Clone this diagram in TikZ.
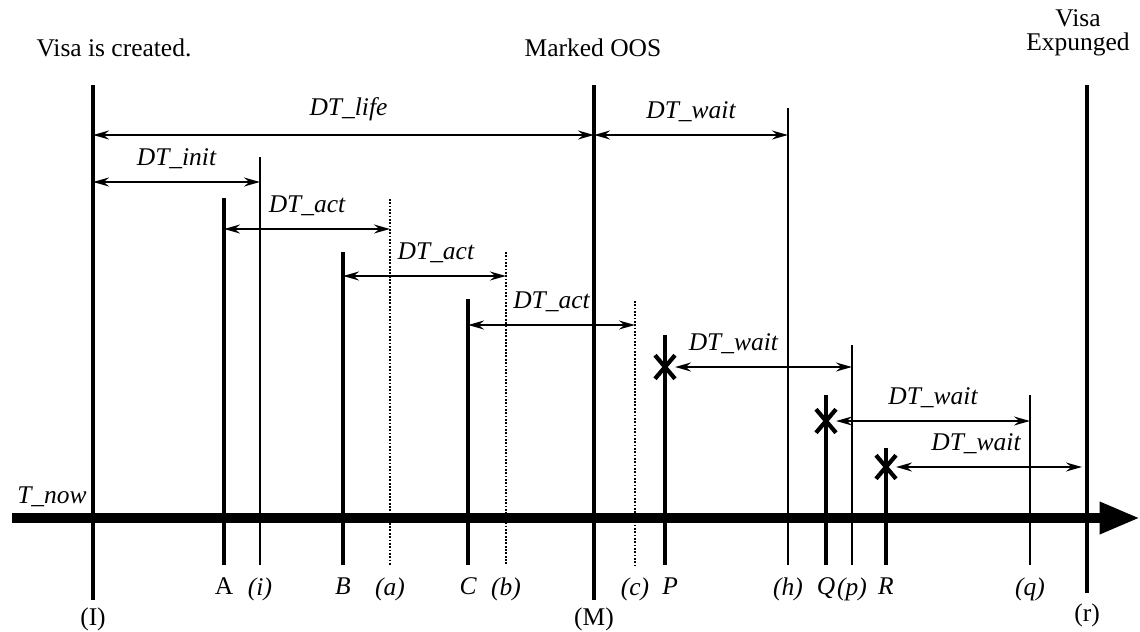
\documentclass[tikz,border=0pt]{standalone}
\usepackage{fontspec}
\setmainfont{Liberation Serif}
\usepackage{tikz}
\usepackage{xcolor}
\usetikzlibrary{arrows.meta, positioning, shapes.misc}
\definecolor{InkBlack}{HTML}{000000}
\definecolor{PaperWhite}{HTML}{ffffff}
\newcommand{\figfont}{\fontsize{14.5}{14}\selectfont}
\tikzset{
    % Line styles
    eventline/.style={
        draw=InkBlack,
        line width=1.8pt
    },
    limitline/.style={
        draw=InkBlack,
        line width=1.6pt,
        dash pattern=on 1pt off 0.9pt
    },
    waitline/.style={
        draw=InkBlack,
        line width=1.1pt
    },
    crossmark/.style={
        cross out,
        draw=InkBlack,
        line width=2.4pt,
        inner sep=0pt,
        minimum width=9pt,
        minimum height=11pt
    },
    % Arrow styles
    spanarrow/.style={
        <->,
        >={Stealth[length=9pt, width=5pt]},
        line width=1.5pt,
        InkBlack
    },
    timeline/.style={
        draw=InkBlack,
        line width=5.5pt,
        -{Triangle[length=23pt, width=17pt]}
    },
    % Text styles
    spanlabel/.style={
        inner sep=1pt,
        font=\figfont\itshape
    },
    ticklabel/.style={
        inner sep=1pt,
        font=\figfont\itshape
    },
    eventlabel/.style={
        inner sep=1pt,
        align=center,
        font=\figfont
    }
}

\begin{document}
\begin{tikzpicture}[x=0.02cm, y=-0.02cm]
    \useasboundingbox[fill=PaperWhite] (0,0) rectangle (1140,632);

    \coordinate (now-s) at (12,518);
    \coordinate (now-e) at (1140,518);
    \draw[timeline] (now-s) -- (now-e);
    \node[spanlabel] (now-lab) at (52,497) {T\_now};

    \node[eventlabel] (created) at (114,48) {Visa is created.};
    \node[eventlabel] (marked) at (593,48) {Marked OOS};
    \node[eventlabel] (expunged) at (1078,33) {Visa\\Expunged};

    \coordinate (I-top) at (93,85);   \coordinate (I-bot) at (93,600);
    \coordinate (A-top) at (224,198); \coordinate (A-bot) at (224,565);
    \coordinate (i-top) at (260,157); \coordinate (i-bot) at (260,565);
    \coordinate (B-top) at (343,252); \coordinate (B-bot) at (343,565);
    \coordinate (a-top) at (390,199); \coordinate (a-bot) at (390,565);
    \coordinate (C-top) at (468,299); \coordinate (C-bot) at (468,565);
    \coordinate (b-top) at (506,252); \coordinate (b-bot) at (506,565);
    \coordinate (M-top) at (594,85);  \coordinate (M-bot) at (594,600);
    \coordinate (c-top) at (635,301); \coordinate (c-bot) at (635,565);
    \coordinate (P-top) at (665,335); \coordinate (P-bot) at (665,565);
    \coordinate (h-top) at (788,108); \coordinate (h-bot) at (788,565);
    \coordinate (Q-top) at (826,395); \coordinate (Q-bot) at (826,565);
    \coordinate (p-top) at (852,345); \coordinate (p-bot) at (852,565);
    \coordinate (R-top) at (886,448); \coordinate (R-bot) at (886,565);
    \coordinate (q-top) at (1030,395); \coordinate (q-bot) at (1030,565);
    \coordinate (r-top) at (1087,85); \coordinate (r-bot) at (1087,593);

    \draw[eventline] (I-top) -- (I-bot);
    \draw[eventline] (A-top) -- (A-bot);
    \draw[eventline, line width=1.4pt] (i-top) -- (i-bot);
    \draw[eventline] (B-top) -- (B-bot);
    \draw[limitline] (a-top) -- (a-bot);
    \draw[eventline] (C-top) -- (C-bot);
    \draw[limitline] (b-top) -- (b-bot);
    \draw[eventline] (M-top) -- (M-bot);
    \draw[limitline] (c-top) -- (c-bot);
    \draw[eventline] (P-top) -- (P-bot);
    \draw[waitline] (h-top) -- (h-bot);
    \draw[eventline] (Q-top) -- (Q-bot);
    \draw[waitline] (p-top) -- (p-bot);
    \draw[eventline] (R-top) -- (R-bot);
    \draw[waitline] (q-top) -- (q-bot);
    \draw[eventline] (r-top) -- (r-bot);

    \node[eventlabel, below=3pt of I-bot] (I-lab) {(I)};
    \node[eventlabel, below=6pt of A-bot] (A-lab) {A};
    \node[ticklabel, below=6pt of i-bot] (i-lab) {(i)};
    \node[ticklabel, below=6pt of B-bot] (B-lab) {B};
    \node[ticklabel, below=6pt of a-bot] (a-lab) {(a)};
    \node[ticklabel, below=6pt of C-bot] (C-lab) {C};
    \node[ticklabel, below=6pt of b-bot] (b-lab) {(b)};
    \node[eventlabel, below=3pt of M-bot] (M-lab) {(M)};
    \node[ticklabel, below=6pt of c-bot] (c-lab) {(c)};
    \node[ticklabel, below=6pt of P-bot, xshift=3pt] (P-lab) {P};
    \node[ticklabel, below=6pt of h-bot] (h-lab) {(h)};
    \node[ticklabel, below=6pt of Q-bot] (Q-lab) {Q};
    \node[ticklabel, below=6pt of p-bot] (p-lab) {(p)};
    \node[ticklabel, below=6pt of R-bot] (R-lab) {R};
    \node[ticklabel, below=6pt of q-bot] (q-lab) {(q)};
    \node[eventlabel, below=5pt of r-bot] (r-lab) {(r)};

    \node[crossmark] (P-x) at (665,367) {};
    \node[crossmark] (Q-x) at (826,421) {};
    \node[crossmark] (R-x) at (886,467) {};

    \coordinate (life-s) at (93,135);  \coordinate (life-e) at (594,135);
    \coordinate (oos-s) at (594,135);  \coordinate (oos-e) at (788,135);
    \coordinate (init-s) at (93,182);  \coordinate (init-e) at (260,182);
    \coordinate (actA-s) at (224,229); \coordinate (actA-e) at (390,229);
    \coordinate (actB-s) at (343,276); \coordinate (actB-e) at (506,276);
    \coordinate (actC-s) at (468,325); \coordinate (actC-e) at (635,325);
    \coordinate (waitP-e) at (852,367);
    \coordinate (waitQ-e) at (1030,421);
    \coordinate (waitR-e) at (1082,467);

    \draw[spanarrow] (life-s) -- node[spanlabel, above=6pt, pos=0.51] (life-lab) {DT\_life} (life-e);
    \draw[spanarrow] (oos-s) -- node[spanlabel, above=6pt] (oos-lab) {DT\_wait} (oos-e);
    \draw[spanarrow] (init-s) -- node[spanlabel, above=6pt] (init-lab) {DT\_init} (init-e);
    \draw[spanarrow] (actA-s) -- node[spanlabel, above=6pt] (actA-lab) {DT\_act} (actA-e);
    \draw[spanarrow] (actB-s) -- node[spanlabel, above=6pt, pos=0.57] (actB-lab) {DT\_act} (actB-e);
    \draw[spanarrow] (actC-s) -- node[spanlabel, above=6pt] (actC-lab) {DT\_act} (actC-e);
    \draw[spanarrow] (P-x) -- node[spanlabel, above=6pt, pos=0.33] (waitP-lab) {DT\_wait} (waitP-e);
    \draw[spanarrow] (Q-x) -- node[spanlabel, above=6pt] (waitQ-lab) {DT\_wait} (waitQ-e);
    \draw[spanarrow] (R-x) -- node[spanlabel, above=6pt, pos=0.43] (waitR-lab) {DT\_wait} (waitR-e);
\end{tikzpicture}
\end{document}
